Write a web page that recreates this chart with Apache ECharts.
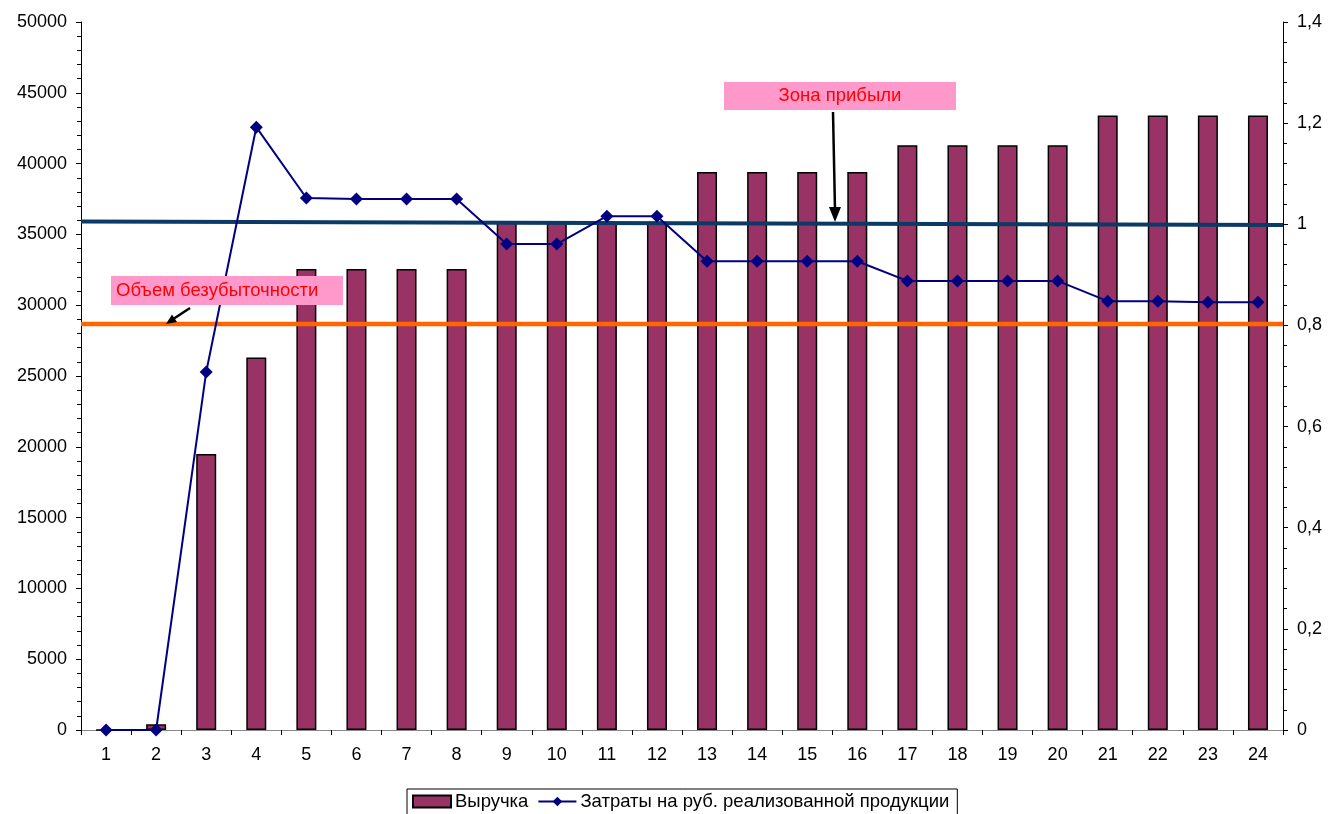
<!DOCTYPE html>
<html><head><meta charset="utf-8">
<script src="https://cdn.jsdelivr.net/npm/echarts@6/dist/echarts.min.js"></script>
<style>html,body{margin:0;padding:0;background:#fff}#c{width:1328px;height:814px}</style>
</head><body><div id="c"></div>
<script>
const categories = ['1','2','3','4','5','6','7','8','9','10','11','12','13','14','15','16','17','18','19','20','21','22','23','24'];
const revenue = [0, 400, 19500, 26300, 32550, 32550, 32550, 32550, 35900, 35900, 35900, 35900, 39400, 39400, 39400, 39400, 41300, 41300, 41300, 41300, 43400, 43400, 43400, 43400];
const costPerRub = [0, 0, 0.708, 1.192, 1.052, 1.050, 1.050, 1.050, 0.961, 0.961, 1.016, 1.016, 0.927, 0.927, 0.927, 0.927, 0.888, 0.888, 0.888, 0.888, 0.848, 0.848, 0.846, 0.846];
const profitLine = [[0, 35910], [1, 35660]];
const breakEvenLine = [[0, 28670], [1, 28670]];
const leftTicks = [0, 50000, 5000];
const rightTicks = [0, 1.4, 0.2];
const seriesNames = ['Выручка', 'Затраты на руб. реализованной продукции'];
const notes = ['Зона прибыли', 'Объем безубыточности'];

const font = 'Liberation Sans, Arial, sans-serif';
const fs = 18;
const lfs = 18.5;
const chart = echarts.init(document.getElementById('c'));
chart.setOption({
  animation: false,
  textStyle: {fontFamily: font},
  grid: {left: 81, right: 45, top: 22, bottom: 84, containLabel: false},
  legend: {
    data: [{name: seriesNames[0], icon: 'rect'}, {name: seriesNames[1]}],
    left: 407, top: 789, padding: [3, 8, 8, 5],
    borderColor: '#000', borderWidth: 1, itemGap: 9,
    itemWidth: 38, itemHeight: 12,
    textStyle: {fontSize: lfs, color: '#000', fontFamily: font, padding: [0, 0, 0, -1]}
  },
  xAxis: [{
    type: 'category', data: categories, boundaryGap: true,
    axisLine: {lineStyle: {color: '#000', width: 1}},
    axisTick: {show: true, length: 5, lineStyle: {color: '#000'}},
    axisLabel: {fontSize: fs, color: '#000', margin: 16, fontFamily: font}
  }, {
    type: 'value', min: 0, max: 1, position: 'top', show: true,
    axisLine: {show: true, lineStyle: {color: '#888', width: 1}},
    axisTick: {show: false}, axisLabel: {show: false}, splitLine: {show: false}
  }],
  yAxis: [{
    type: 'value', min: leftTicks[0], max: leftTicks[1], interval: leftTicks[2],
    axisLine: {show: true, lineStyle: {color: '#000'}},
    axisTick: {show: true, length: 5, lineStyle: {color: '#000'}},
    minorTick: {show: true, splitNumber: 5, length: 4, lineStyle: {color: '#000'}},
    splitLine: {show: false},
    axisLabel: {fontSize: fs, color: '#000', margin: 14, fontFamily: font, formatter: v => String(v)}
  }, {
    type: 'value', min: rightTicks[0], max: rightTicks[1], interval: rightTicks[2],
    position: 'right',
    axisLine: {show: true, lineStyle: {color: '#000'}},
    axisTick: {show: true, length: 5, lineStyle: {color: '#000'}},
    minorTick: {show: true, splitNumber: 5, length: 4, lineStyle: {color: '#000'}},
    splitLine: {show: false},
    axisLabel: {fontSize: fs, color: '#000', margin: 14, fontFamily: font,
      formatter: v => String(Math.round(v * 10) / 10).replace('.', ',')}
  }],
  series: [{
    name: seriesNames[0], type: 'bar', data: revenue, barWidth: 20,
    itemStyle: {color: '#993366', borderColor: '#000', borderWidth: 1.5},
    z: 2
  }, {
    name: seriesNames[1], type: 'line', yAxisIndex: 1, data: costPerRub,
    symbol: 'diamond', symbolSize: 13,
    lineStyle: {color: '#000080', width: 2},
    itemStyle: {color: '#000080'}, z: 5
  }, {
    name: 'profit', type: 'line', xAxisIndex: 1, yAxisIndex: 0, data: profitLine,
    symbol: 'none', lineStyle: {color: '#0B3A66', width: 4}, z: 4, silent: true
  }, {
    name: 'breakeven', type: 'line', xAxisIndex: 1, yAxisIndex: 0, data: breakEvenLine,
    symbol: 'none', lineStyle: {color: '#FF6600', width: 4.5}, z: 4, silent: true
  }],
  graphic: [
    {type: 'rect', shape: {x: 724, y: 82, width: 232, height: 28}, style: {fill: '#FF99CC'}, z: 10},
    {type: 'text', x: 840, y: 96, style: {text: notes[0], fill: '#FF0000', font: lfs + 'px ' + font, align: 'center', verticalAlign: 'middle'}, z: 11},
    {type: 'line', shape: {x1: 833, y1: 112, x2: 835, y2: 210}, style: {stroke: '#000', lineWidth: 2.5}, z: 10},
    {type: 'polygon', shape: {points: [[835, 222], [829, 207], [841, 207]]}, style: {fill: '#000'}, z: 10},
    {type: 'rect', shape: {x: 111, y: 276, width: 232, height: 29}, style: {fill: '#FF99CC'}, z: 10},
    {type: 'text', x: 116, y: 291, style: {text: notes[1], fill: '#FF0000', font: lfs + 'px ' + font, align: 'left', verticalAlign: 'middle'}, z: 11},
    {type: 'line', shape: {x1: 190, y1: 308, x2: 174, y2: 318.5}, style: {stroke: '#000', lineWidth: 2.5}, z: 10},
    {type: 'polygon', shape: {points: [[166, 324], [177, 322], [172, 314.5]]}, style: {fill: '#000'}, z: 10}
  ]
});
</script></body></html>
